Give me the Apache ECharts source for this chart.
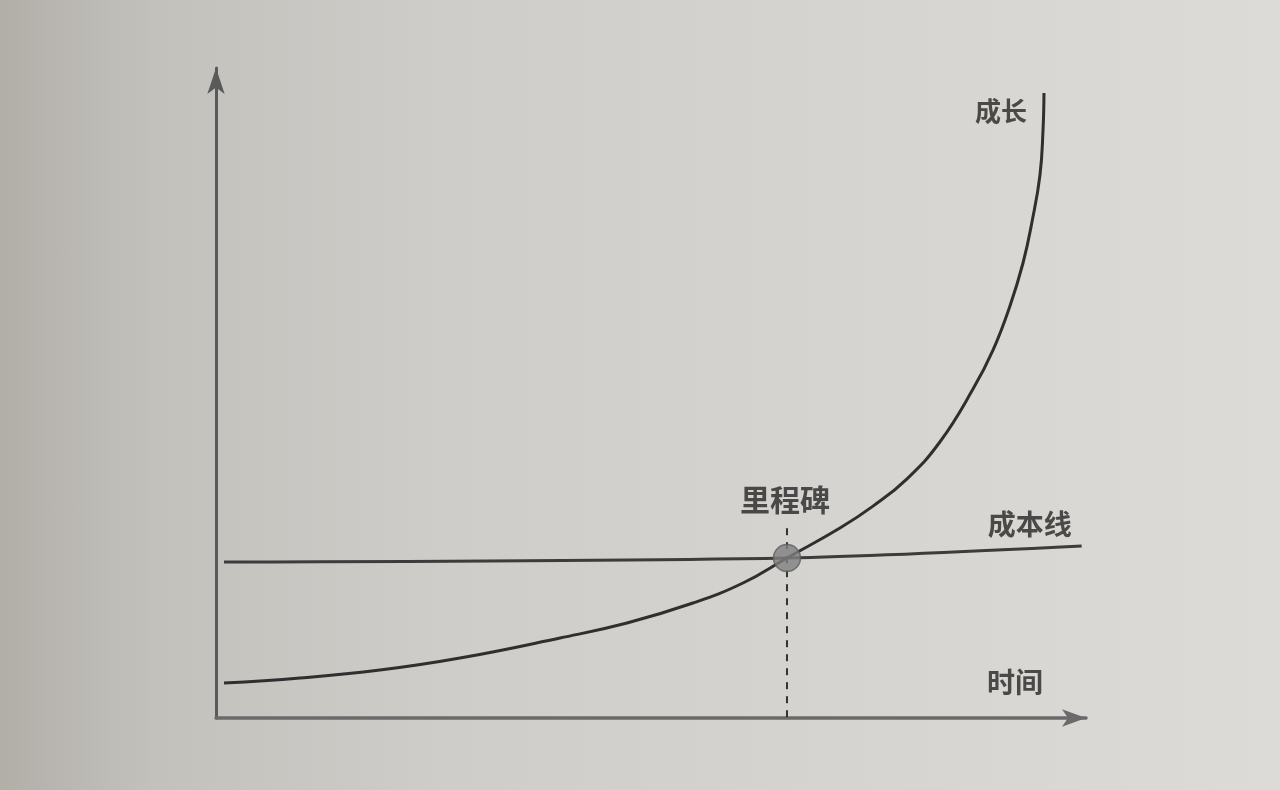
<!DOCTYPE html>
<html>
<head>
<meta charset="utf-8">
<script src="https://cdn.jsdelivr.net/npm/echarts@6/dist/echarts.min.js"></script>
<style>
  html, body { margin: 0; padding: 0; }
  body {
    width: 1280px; height: 790px; overflow: hidden;
    background: linear-gradient(90deg, #b2afa9 0%, #c3c1bc 12%, #cfcdc9 35%, #d6d4d0 65%, #dddbd7 100%);
  }
  #chart { width: 1280px; height: 790px; }
</style>
</head>
<body>
<div id="chart"></div>
<script>
// ---- data (x: time 0-100, y: value 0-100) ----
const growthX = [0.92, 9.66, 18.85, 28.05, 39.54, 47.24, 54.83, 60.57, 65.63, 71.72, 75.52, 79.43, 83.22, 87.01, 89.31, 91.26, 92.76, 93.79, 94.71, 95.06, 95.17];
const growthY = [5.38, 6.15, 7.38, 9.23, 12.31, 14.62, 17.69, 20.77, 24.62, 29.23, 32.6, 36.8, 42.5, 50.6, 56.6, 63.4, 70.0, 76.31, 83.54, 90.46, 96.15];
const costX = [0.92, 65.63, 99.5];
const costY = [24.0, 24.62, 26.46];
const milestone = [65.63, 24.62];
const milestoneTop = 29.2;
const labels = { growth: '成长', cost: '成本线', milestone: '里程碑', time: '时间' };

const zip = (xs, ys) => xs.map((x, i) => [x, ys[i]]);
const growthData = zip(growthX, growthY);
const costData = zip(costX, costY);

const ink = '#2f2f2f';
const font = '"Noto Sans CJK SC", sans-serif';
const lbl = (text, offset, size) => ({
  show: true, position: 'inside', formatter: text, offset: offset,
  fontFamily: font, fontSize: size, color: '#262626', fontWeight: 'bold'
});

const chart = echarts.init(document.getElementById('chart'));
chart.setOption({
  backgroundColor: 'transparent',
  animation: false,
  grid: { left: 216, right: 194, top: 68, bottom: 72, containLabel: false },
  xAxis: {
    type: 'value', min: 0, max: 100,
    axisLine: { show: true, onZero: true, symbol: ['none', 'arrow'], symbolSize: [13, 24],
      lineStyle: { color: '#6a6a6a', width: 3.5 } },
    axisTick: { show: false }, axisLabel: { show: false }, splitLine: { show: false }
  },
  yAxis: {
    type: 'value', min: 0, max: 100,
    axisLine: { show: true, symbol: ['none', 'arrow'], symbolSize: [13, 26],
      lineStyle: { color: '#5a5a5a', width: 3 } },
    axisTick: { show: false }, axisLabel: { show: false }, splitLine: { show: false }
  },
  series: [
    {
      name: 'growth', type: 'line', data: growthData, smooth: 0.45, showSymbol: false,
      lineStyle: { color: ink, width: 3 }, z: 3
    },
    {
      name: 'cost', type: 'line', data: costData, smooth: 0.3, showSymbol: false,
      lineStyle: { color: '#3c3c3c', width: 3 }, z: 2
    },
    {
      name: 'dash', type: 'line', data: [[milestone[0], milestoneTop], [milestone[0], 0]], showSymbol: false,
      lineStyle: { color: '#333', width: 2, type: [7, 7] }, z: 1
    },
    {
      name: 'milestone', type: 'scatter', data: [milestone], symbolSize: 27,
      itemStyle: { color: '#808080', borderColor: '#5e5e5e', borderWidth: 1.5 }, z: 5
    },
    {
      name: 'labels', type: 'scatter', symbolSize: 0, z: 6, silent: true,
      data: [
        { value: growthData[growthData.length - 1], label: lbl(labels.growth, [-43, 18], 26) },
        { value: costData[costData.length - 1], label: lbl(labels.cost, [-52, -22], 28) },
        { value: milestone, label: lbl(labels.milestone, [-2, -58], 30) },
        { value: [100, 0], label: lbl(labels.time, [-71, -36], 28) }
      ]
    }
  ]
});
</script>
</body>
</html>
